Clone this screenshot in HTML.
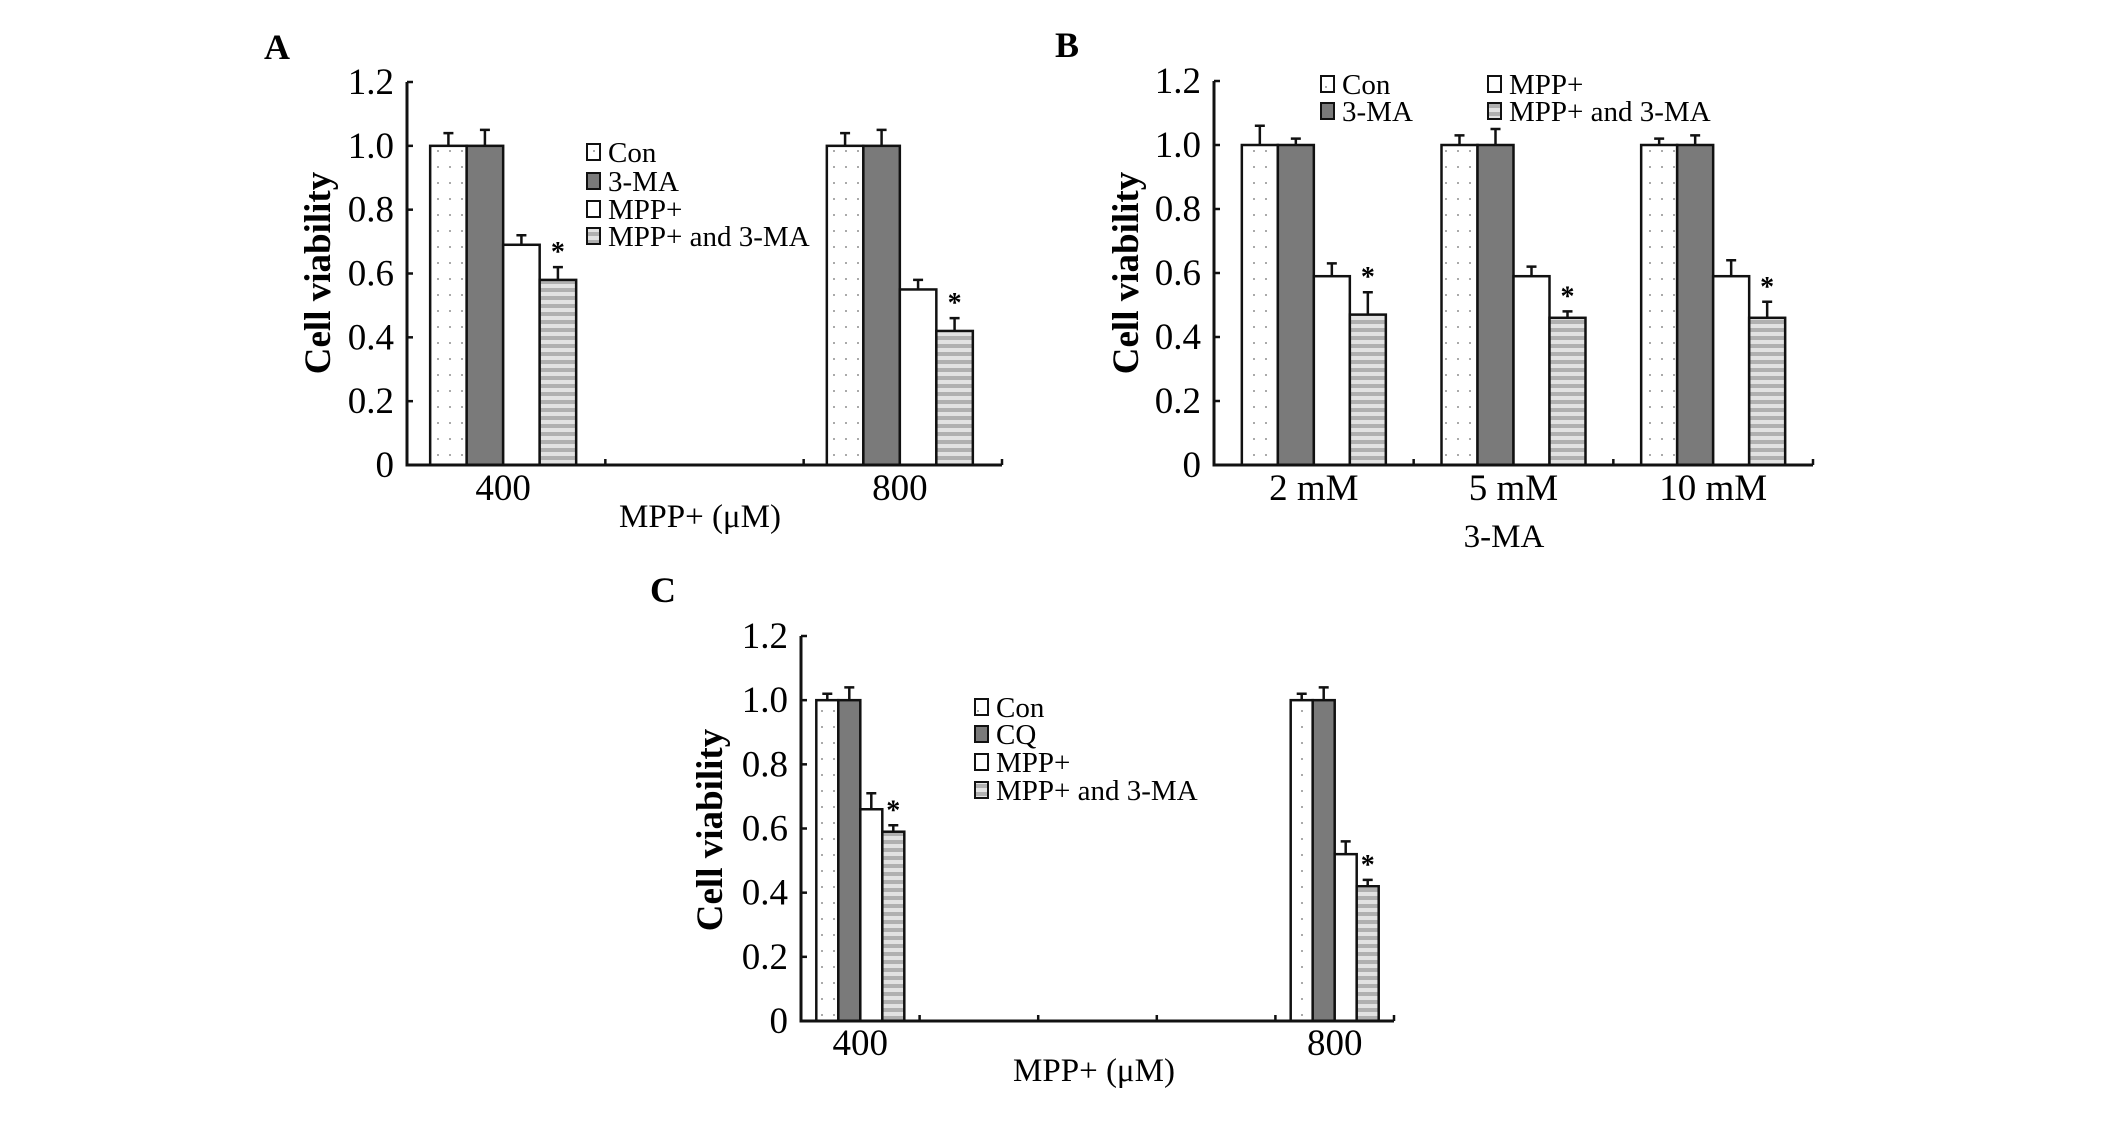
<!DOCTYPE html>
<html><head><meta charset="utf-8"><style>
html,body{margin:0;padding:0;background:#fff;}
svg{display:block;font-family:"Liberation Serif",serif;}
</style></head><body>
<svg id="fig" width="2126" height="1129" viewBox="0 0 2126 1129" xmlns="http://www.w3.org/2000/svg">
<defs>
<pattern id="pDots" width="12" height="16" patternUnits="userSpaceOnUse"><rect width="12" height="16" fill="#fff"/><rect x="5" y="6" width="2" height="2" fill="#aaa"/></pattern>
<pattern id="pStripe" width="8" height="8" patternUnits="userSpaceOnUse"><rect width="8" height="8" fill="#e2e2e2"/><rect y="0" width="8" height="4" fill="#b0b0b0"/></pattern>
</defs>
</svg>
<script>
const seriesNames = ["Con","3-MA","MPP+","MPP+ and 3-MA"];
const seriesNamesC = ["Con","CQ","MPP+","MPP+ and 3-MA"];
const fills = ["url(#pDots)","#7a7a7a","#ffffff","url(#pStripe)"];
const yTicks = [0,0.2,0.4,0.6,0.8,1.0,1.2];
const yTickLabels = ["0","0.2","0.4","0.6","0.8","1.0","1.2"];

const catsA = ["400","","800"];
const valsA = [[1.0,1.0,0.69,0.58],null,[1.0,1.0,0.55,0.42]];
const errsA = [[0.04,0.05,0.03,0.04],null,[0.04,0.05,0.03,0.04]];

const catsB = ["2 mM","5 mM","10 mM"];
const valsB = [[1.0,1.0,0.59,0.47],[1.0,1.0,0.59,0.46],[1.0,1.0,0.59,0.46]];
const errsB = [[0.06,0.02,0.04,0.07],[0.03,0.05,0.03,0.02],[0.02,0.03,0.05,0.05]];

const catsC = ["400","","","","800"];
const valsC = [[1.0,1.0,0.66,0.59],null,null,null,[1.0,1.0,0.52,0.42]];
const errsC = [[0.02,0.04,0.05,0.02],null,null,null,[0.02,0.04,0.04,0.02]];

const svg = document.getElementById('fig');
const NS = "http://www.w3.org/2000/svg";
function mk(tag, attrs, parent, txt){
  const e = document.createElementNS(NS, tag);
  for (const k in attrs) e.setAttribute(k, attrs[k]);
  if (txt !== undefined) e.textContent = txt;
  (parent||svg).appendChild(e);
  return e;
}

function panel(p){
  const g = mk('g',{});
  
  
  const yS = v => p.y0 - (v/1.2)*(p.y0 - p.y12);
  const slot = (p.x1 - p.x0)/p.cats.length;
  const xS = i => p.x0 + slot*(i+0.5);
  const L = mk('text',{x:p.lx,y:p.ly,'font-size':36,'font-weight':'bold'},g,p.id);
  
  
  p.vals.forEach((grp,i)=>{
    if(!grp) return;
    const c = xS(i) + p.off;
    grp.forEach((v,s)=>{
      const bx = c - 2*p.bw + s*p.bw;
      const top = yS(v), et = yS(v + p.errs[i][s]);
      const r = mk('rect',{x:bx,y:top,width:p.bw,height:p.y0-top,fill:fills[s],stroke:'#111','stroke-width':2.5},g);
      
      
      const e = mk('path',{d:`M${bx+p.bw/2},${top}V${et}M${bx+p.bw/2-5},${et}H${bx+p.bw/2+5}`,stroke:'#111','stroke-width':2.5,fill:'none'},g);
      
      
      if (s===3){
        const a = mk('text',{x:bx+p.bw/2,y:et-6,'font-size':28,'font-weight':'bold','text-anchor':'middle'},g,'*');
        
        
      }
    });
  });
  const ax = mk('path',{d:`M${p.x0},${p.y12}V${p.y0}H${p.x1}`,stroke:'#111','stroke-width':3,fill:'none'},g);
  
  
  for(let i=0;i<=p.cats.length;i++){
    const x = p.x0 + slot*i;
    mk('line',{x1:x,x2:x,y1:p.y0,y2:p.y0-6,stroke:'#111','stroke-width':2.5},g);
  }
  yTicks.forEach((v,i)=>{
    mk('line',{x1:p.x0,x2:p.x0+6,y1:yS(v),y2:yS(v),stroke:'#111','stroke-width':2.5},g);
    const t = mk('text',{x:p.x0-13,y:yS(v)+12,'font-size':37,'text-anchor':'end'},g,yTickLabels[i]);
    
    
  });
  p.cats.forEach((c,i)=>{
    if(!c) return;
    const t = mk('text',{x:xS(i)+p.off,y:p.xly,'font-size':37,'text-anchor':'middle'},g,c);
    
    
  });
  const xt = mk('text',{x:p.xtx,y:p.xty,'font-size':33,'text-anchor':'middle'},g,p.xtitle);
  
  
  const yt = mk('text',{x:0,y:0,'font-size':37,'font-weight':'bold','text-anchor':'middle',transform:`translate(${p.ytx},${p.yty}) rotate(-90)`},g,'Cell viability');
  
  
  p.legend.forEach((it,s)=>{
    const lg = mk('g',{},g);
    
    
    mk('rect',{x:it[0],y:it[1]-8,width:13,height:16,fill:fills[s],stroke:'#111','stroke-width':2},lg);
    mk('text',{x:it[0]+21,y:it[1]+10,'font-size':29},lg,p.names[s]);
  });
}

panel({id:'A',cats:catsA,vals:valsA,errs:errsA,names:seriesNames,x0:407,x1:1002,y0:465,y12:82,bw:36.5,off:-3,
  lx:264,ly:59,xly:500,xtitle:'MPP+ (\u03bcM)',xtx:700,xty:527,ytx:330,yty:273,
  legend:[[587,152],[587,181],[587,209],[587,236]]});
panel({id:'B',cats:catsB,vals:valsB,errs:errsB,names:seriesNames,x0:1214,x1:1813,y0:465,y12:81,bw:36,off:0,
  lx:1055,ly:57,xly:500,xtitle:'3-MA',xtx:1504,xty:547,ytx:1138,yty:273,
  legend:[[1321,84],[1321,111],[1488,84],[1488,111]]});
panel({id:'C',cats:catsC,vals:valsC,errs:errsC,names:seriesNamesC,x0:801,x1:1394,y0:1021,y12:636,bw:22,off:0,
  lx:650,ly:602,xly:1055,xtitle:'MPP+ (\u03bcM)',xtx:1094,xty:1081,ytx:722,yty:830,
  legend:[[975,707],[975,734],[975,762],[975,790]]});
</script>
</body></html>
